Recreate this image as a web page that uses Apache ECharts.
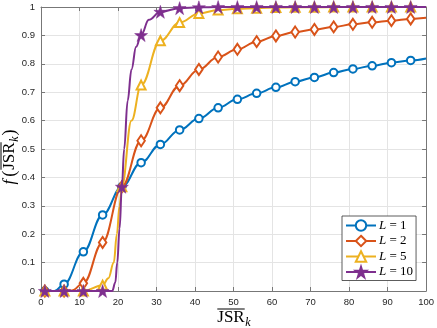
<!DOCTYPE html>
<html><head><meta charset="utf-8">
<script src="https://cdn.jsdelivr.net/npm/echarts@6/dist/echarts.min.js"></script>
<style>html,body{margin:0;padding:0;background:#fff}#c{width:437px;height:328px}</style>
</head><body><div id="c"></div>
<script>
// ---- data ----
const markerX = [1,6,11,16,21,26,31,36,41,46,51,56,61,66,71,76,81,86,91,96];
const xTicks = [0,10,20,30,40,50,60,70,80,90,100];
const yTicks = [0,0.1,0.2,0.3,0.4,0.5,0.6,0.7,0.8,0.9,1];
const seriesNames = ['L = 1','L = 2','L = 5','L = 10'];
const valsL1  = [0,0.024,0.138,0.268,0.367,0.452,0.516,0.567,0.607,0.645,0.675,0.696,0.717,0.737,0.752,0.769,0.782,0.793,0.804,0.812];
const valsL2  = [0,0,0.027,0.171,0.367,0.529,0.645,0.723,0.780,0.824,0.851,0.878,0.898,0.912,0.921,0.930,0.939,0.946,0.952,0.958];
const valsL5  = [0,0,0,0.02,0.367,0.725,0.881,0.945,0.977,0.989,0.994,0.996,0.998,0.999,0.999,1,1,1,1,1];
const valsL10 = [0,0,0,0,0.367,0.901,0.983,0.996,0.999,1,1,1,1,1,1,1,1,1,1,1];
// extra curve points (no marker)
const curveL1  = [[3.5,0],[100,0.819]];
const curveL2  = [[8,0.002],[100,0.962]];
const curveL5  = [[17.5,0.045],[18.9,0.1],[19.7,0.2],[20.4,0.3],[23.5,0.6],[100,1]];
const curveL10 = [[18.5,0],[19.3,0.03],[19.8,0.1],[20.4,0.22],[21.6,0.5],[22.5,0.67],[23.5,0.78],[24.7,0.86],[28,0.955],[100,1]];

const colors = ['#0072BD','#D95319','#EDB120','#7E2F8E'];
const starPath = 'path://M50,0 L61.2,34.5 L97.6,34.5 L68.2,55.9 L79.4,90.5 L50,69.1 L20.6,90.5 L31.8,55.9 L2.4,34.5 L38.8,34.5 Z';
const symbols = ['emptyCircle','emptyDiamond','emptyTriangle',starPath];
const symSizes = [7.5,[7.5,11],9,13];

function build(vals, extra){
  const pts = markerX.map((x,i)=>({value:[x,vals[i]]}));
  extra.forEach(p=>pts.push({value:p, symbol:'none'}));
  pts.sort((a,b)=>a.value[0]-b.value[0]);
  return pts;
}
const allVals=[valsL1,valsL2,valsL5,valsL10], allCurves=[curveL1,curveL2,curveL5,curveL10];

const series = seriesNames.map((n,i)=>({
  name:n, type:'line', xAxisIndex:0, yAxisIndex:0,
  data: build(allVals[i], allCurves[i]),
  smooth:0.4, smoothMonotone:'x',
  symbol: symbols[i], symbolSize: symSizes[i], showAllSymbol:true,
  lineStyle:{color:colors[i], width:2},
  itemStyle:{color:colors[i], borderColor:colors[i], borderWidth: i===3?0.5:2},
  emphasis:{disabled:true}, animation:false, z: 2+i
}));

const axisCol = '#777';
const lblStyle = {color:'#262626', fontSize:9.5, fontFamily:'Liberation Sans, Arial, sans-serif'};
const chart = echarts.init(document.getElementById('c'), null, {renderer:'canvas'});

// measure helper
const mctx = document.createElement('canvas').getContext('2d');
function tw(t, font){ mctx.font = font; return mctx.measureText(t).width; }
const serif = '"Liberation Serif","DejaVu Serif",serif';
const bigF = '17px ' + serif, subF = 'italic 12px ' + serif;

// x title
const xcx = 231, wJ = tw('JSR', bigF);
const xTitle = {type:'group', children:[
  {type:'text', x:xcx, y:318, style:{text:'JSR', font:bigF, fill:'#000', align:'center', verticalAlign:'middle'}},
  {type:'rect', shape:{x:xcx-wJ/2, y:308.5, width:wJ, height:1}, style:{fill:'#000'}},
  {type:'text', x:xcx+wJ/2+0.5, y:323, style:{text:'k', font:subF, fill:'#000', align:'left', verticalAlign:'middle'}}
]};
// y title (rotated)
const fF = 'italic 17px ' + serif, pF = '18px ' + serif;
const wf = tw('f', fF), wp = tw('(', pF), wk = tw('k', subF), wq = tw(')', pF);
let cx = 0; const yc = [];
yc.push({type:'text', x:cx, y:0, style:{text:'f', font:fF, fill:'#000', align:'left', verticalAlign:'middle'}}); cx += wf+3;
yc.push({type:'text', x:cx, y:0, style:{text:'(', font:pF, fill:'#000', align:'left', verticalAlign:'middle'}}); cx += wp+1;
yc.push({type:'text', x:cx, y:0, style:{text:'JSR', font:bigF, fill:'#000', align:'left', verticalAlign:'middle'}});
yc.push({type:'rect', shape:{x:cx, y:-9.5, width:wJ, height:1}, style:{fill:'#000'}}); cx += wJ+0.5;
yc.push({type:'text', x:cx, y:5, style:{text:'k', font:subF, fill:'#000', align:'left', verticalAlign:'middle'}}); cx += wk+1;
yc.push({type:'text', x:cx, y:0, style:{text:')', font:pF, fill:'#000', align:'left', verticalAlign:'middle'}}); cx += wq;
const yTitle = {type:'group', x:10, y:157+cx/2, rotation:Math.PI/2, children:yc};

const baseX = {type:'value', min:0, max:100, interval:10};
const baseY = {type:'value', min:0, max:1, interval:0.1};
chart.setOption({
  animation:false,
  grid:{left:41, right:9, top:7, bottom:37, containLabel:false},
  xAxis:[
    Object.assign({}, baseX, {position:'bottom',
      axisLine:{show:true, onZero:false, lineStyle:{color:axisCol, width:1}},
      axisTick:{show:true, inside:true, length:4, lineStyle:{color:axisCol}},
      axisLabel:Object.assign({margin:6, formatter:v=>xTicks.includes(v)?String(v):''}, lblStyle),
      splitLine:{show:true, lineStyle:{color:'#e4e4e4', width:1}}}),
    Object.assign({}, baseX, {position:'top',
      axisLine:{show:true, onZero:false, lineStyle:{color:axisCol, width:1}},
      axisTick:{show:true, inside:true, length:4, lineStyle:{color:axisCol}},
      axisLabel:{show:false}, splitLine:{show:false}})
  ],
  yAxis:[
    Object.assign({}, baseY, {position:'left',
      axisLine:{show:true, onZero:false, lineStyle:{color:axisCol, width:1}},
      axisTick:{show:true, inside:true, length:4, lineStyle:{color:axisCol}},
      axisLabel:Object.assign({margin:6, formatter:v=>{const t=yTicks.find(q=>Math.abs(q-v)<1e-9);return t===undefined?'':String(t);}}, lblStyle),
      splitLine:{show:true, lineStyle:{color:'#e4e4e4', width:1}}}),
    Object.assign({}, baseY, {position:'right',
      axisLine:{show:true, onZero:false, lineStyle:{color:axisCol, width:1}},
      axisTick:{show:true, inside:true, length:4, lineStyle:{color:axisCol}},
      axisLabel:{show:false}, splitLine:{show:false}})
  ],
  legend:{
    data:seriesNames, orient:'vertical', left:342, top:216,
    padding:[3,3,2,3], itemGap:2.5, itemWidth:30, itemHeight:13,
    backgroundColor:'#fff', borderColor:'#333', borderWidth:0.8,
    selectedMode:false,
    formatter: n => '{i|L} = ' + n.split('= ')[1],
    textStyle:{fontSize:13, fontFamily:serif, color:'#000', padding:[0,0,0,-2],
      rich:{i:{fontStyle:'italic', fontSize:13, fontFamily:serif, color:'#000'}}}
  },
  graphic:[xTitle, yTitle],
  series: series
});
</script></body></html>
